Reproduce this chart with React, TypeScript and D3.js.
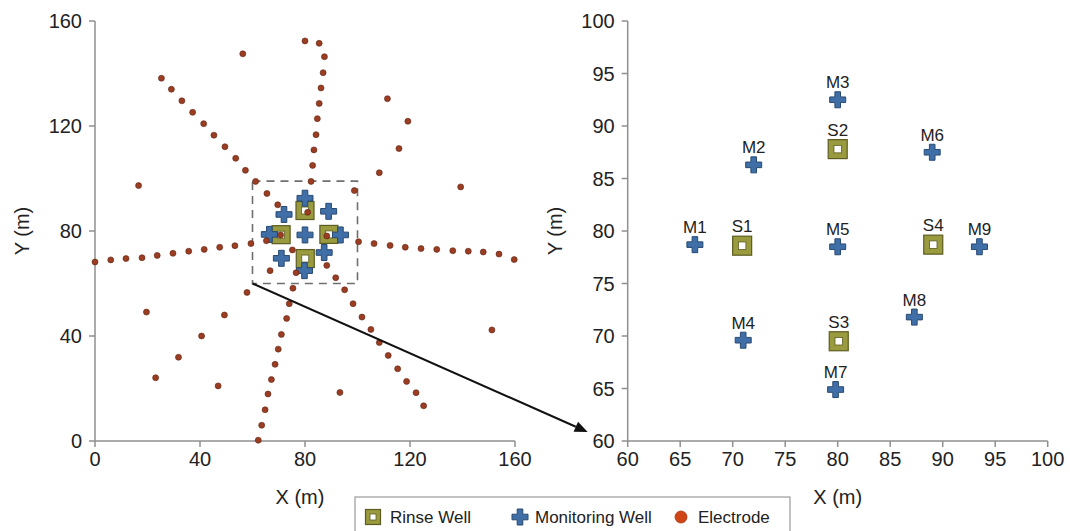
import React from "react";
import * as d3 from "d3";

// ---------- data ----------
const rinseLabels = ["S1", "S2", "S3", "S4"];
const rinseX = [70.9, 80.0, 80.1, 89.1];
const rinseY = [78.6, 87.8, 69.5, 78.7];

const monLabels = ["M1", "M2", "M3", "M4", "M5", "M6", "M7", "M8", "M9"];
const monX = [66.4, 72.0, 80.0, 71.0, 80.0, 89.0, 79.8, 87.3, 93.5];
const monY = [78.7, 86.3, 92.5, 69.6, 78.5, 87.5, 64.9, 71.8, 78.5];

const elecX = [
  // north line
  80.0, 85.4, 87.4, 86.9, 86.1, 85.4, 84.7, 84.2, 83.4, 82.9, 82.3, 81.0,
  // isolated north-west
  56.3, 16.6,
  // north-west line
  25.3, 29.1, 33.1, 37.2, 41.4, 45.3, 49.5, 53.6, 57.3, 61.2, 65.5, 69.6,
  // north-east scattered
  111.4, 119.2, 115.8, 108.3, 139.3, 98.8,
  // west line
  0.0, 6.0, 11.8, 17.9, 23.7, 29.7, 35.7, 41.6, 47.5, 53.3, 59.4, 65.3, 70.7,
  // east line
  88.3, 100.4, 106.3, 112.4, 118.2, 124.2, 130.2, 136.3, 142.2, 147.9, 153.9, 159.7,
  // south-west scattered
  19.6, 49.3, 40.6, 31.8, 23.1, 46.9, 57.9, 66.7,
  // south line
  75.2, 76.6, 75.4, 74.0, 73.0, 71.0, 69.8, 68.6, 67.2, 65.9, 64.8, 63.5, 62.2,
  // south-east line
  88.3, 91.7, 95.1, 98.3, 101.7, 105.1, 108.3, 111.7, 115.3, 118.7, 122.3, 125.2,
  // isolated south
  93.3, 151.2,
];
const elecY = [
  152.4, 151.5, 146.4, 140.3, 134.5, 128.6, 122.8, 116.7, 110.9, 105.0, 98.9, 87.1,
  147.5, 97.3,
  138.2, 134.0, 129.6, 125.2, 120.9, 116.5, 112.1, 107.7, 103.1, 98.9, 94.3, 90.0,
  130.4, 121.8, 111.4, 102.2, 96.8, 95.4,
  68.2, 69.0, 69.5, 69.8, 70.7, 71.5, 72.3, 73.0, 73.8, 74.4, 75.2, 76.3, 78.5,
  78.1, 75.9, 75.2, 74.5, 73.8, 73.3, 73.0, 72.5, 72.3, 72.0, 71.2, 69.1,
  49.1, 48.0, 40.0, 31.9, 24.1, 21.0, 56.6, 64.9,
  72.8, 64.1, 58.2, 52.3, 46.7, 40.6, 35.0, 29.2, 23.4, 17.9, 11.9, 6.0, 0.3,
  66.9, 62.2, 57.6, 52.3, 47.2, 42.5, 37.5, 32.6, 27.5, 22.7, 18.4, 13.4,
  18.5, 42.3,
];

const leftTicks = [0, 40, 80, 120, 160];
const rightTicks = [60, 65, 70, 75, 80, 85, 90, 95, 100];
const zoomBoxX = [60, 100];
const zoomBoxY = [60, 99];
const legendItems = ["Rinse Well", "Monitoring Well", "Electrode"];

// ---------- styles ----------
const FONT = "Liberation Sans, Arial, sans-serif";
const AXIS = "#8f8f8f";
const OLIVE = "#9a9a3e";
const OLIVE_DARK = "#5c5c22";
const BLUE = "#3f6fa6";
const BLUE_DARK = "#284a72";
const ELEC = "#9a3d22";
const ELEC_DARK = "#5e2412";

function plusPath(cx: number, cy: number, L = 8, a = 2.8) {
  return `M${cx - a},${cy - L}H${cx + a}V${cy - a}H${cx + L}V${cy + a}H${cx + a}V${cy + L}H${cx - a}V${cy + a}H${cx - L}V${cy - a}H${cx - a}Z`;
}

function Plus({ cx, cy, L = 8, a = 2.8 }: any) {
  return <path d={plusPath(cx, cy, L, a)} fill={BLUE} stroke={BLUE_DARK} strokeWidth={1} />;
}

function Rinse({ cx, cy, s = 18, inner = 7 }: any) {
  return (
    <g>
      <rect x={cx - s / 2} y={cy - s / 2} width={s} height={s} fill={OLIVE} stroke={OLIVE_DARK} strokeWidth={1.2} />
      <rect x={cx - inner / 2} y={cy - inner / 2} width={inner} height={inner} fill="#fff" stroke={OLIVE_DARK} strokeWidth={0.8} />
    </g>
  );
}

function Axes({ x, y, ticks }: any) {
  const [x0, x1] = x.range();
  const [y0, y1] = y.range();
  return (
    <g fontFamily={FONT} fontSize={20} fill="#222">
      <line x1={x0} x2={x1} y1={y0} y2={y0} stroke={AXIS} strokeWidth={1.5} />
      <line x1={x0} x2={x0} y1={y0} y2={y1} stroke={AXIS} strokeWidth={1.5} />
      {ticks.map((t: number) => (
        <g key={"x" + t}>
          <line x1={x(t)} x2={x(t)} y1={y0} y2={y0 + 6} stroke={AXIS} strokeWidth={1.5} />
          <text x={x(t)} y={y0 + 25} textAnchor="middle">{t}</text>
        </g>
      ))}
      {ticks.map((t: number) => (
        <g key={"y" + t}>
          <line x1={x0 - 6} x2={x0} y1={y(t)} y2={y(t)} stroke={AXIS} strokeWidth={1.5} />
          <text x={x0 - 13} y={y(t)} dy="0.36em" textAnchor="end">{t}</text>
        </g>
      ))}
    </g>
  );
}

export default function App() {
  const xL = d3.scaleLinear().domain([0, 160]).range([95, 515]);
  const yL = d3.scaleLinear().domain([0, 160]).range([441, 21]);
  const xR = d3.scaleLinear().domain([60, 100]).range([627.7, 1047.7]);
  const yR = d3.scaleLinear().domain([60, 100]).range([441, 21]);

  const ax0 = xL(zoomBoxX[0]);
  const ay0 = yL(zoomBoxY[0]);
  const ax1 = xR(60) - 40;
  const ay1 = yR(60) - 9;
  const ang = Math.atan2(ay1 - ay0, ax1 - ax0);
  const hl = 13, hw = 5.5;
  const bx = ax1 - hl * Math.cos(ang), by = ay1 - hl * Math.sin(ang);
  const head = `M${ax1},${ay1}L${bx - hw * Math.sin(ang)},${by + hw * Math.cos(ang)}L${bx + hw * Math.sin(ang)},${by - hw * Math.cos(ang)}Z`;

  return (
    <svg width={1070} height={531} style={{ position: "absolute", left: 0, top: 0, background: "#fff" }}>
      {/* Left panel */}
      <Axes x={xL} y={yL} ticks={leftTicks} />
      <rect
        x={xL(zoomBoxX[0])}
        y={yL(zoomBoxY[1])}
        width={xL(zoomBoxX[1]) - xL(zoomBoxX[0])}
        height={yL(zoomBoxY[0]) - yL(zoomBoxY[1])}
        fill="none"
        stroke="#6f6f6f"
        strokeWidth={1.6}
        strokeDasharray="8,6"
      />
      {rinseX.map((v, i) => <Rinse key={"lr" + i} cx={xL(v)} cy={yL(rinseY[i])} />)}
      {monX.map((v, i) => <Plus key={"lm" + i} cx={xL(v)} cy={yL(monY[i])} />)}
      {elecX.map((v, i) => (
        <circle key={"e" + i} cx={xL(v)} cy={yL(elecY[i])} r={3} fill={ELEC} stroke={ELEC_DARK} strokeWidth={0.6} />
      ))}
      <text x={(xL.range()[0] + xL.range()[1]) / 2 - 5} y={504} textAnchor="middle" fontFamily={FONT} fontSize={20} fill="#222">X (m)</text>
      <text transform={`translate(29,${(yL.range()[0] + yL.range()[1]) / 2}) rotate(-90)`} textAnchor="middle" fontFamily={FONT} fontSize={20} fill="#222">Y (m)</text>

      {/* Arrow */}
      <line x1={ax0} y1={ay0} x2={bx} y2={by} stroke="#111" strokeWidth={2} />
      <path d={head} fill="#111" />

      {/* Right panel */}
      <Axes x={xR} y={yR} ticks={rightTicks} />
      {rinseX.map((v, i) => (
        <g key={"rr" + i}>
          <Rinse cx={xR(v)} cy={yR(rinseY[i])} s={19} inner={7.5} />
          <text x={xR(v)} y={yR(rinseY[i]) - 13.5} textAnchor="middle" fontFamily={FONT} fontSize={17} fill="#222">{rinseLabels[i]}</text>
        </g>
      ))}
      {monX.map((v, i) => (
        <g key={"rm" + i}>
          <Plus cx={xR(v)} cy={yR(monY[i])} />
          <text x={xR(v)} y={yR(monY[i]) - 11.5} textAnchor="middle" fontFamily={FONT} fontSize={17} fill="#222">{monLabels[i]}</text>
        </g>
      ))}
      <text x={(xR.range()[0] + xR.range()[1]) / 2} y={504} textAnchor="middle" fontFamily={FONT} fontSize={20} fill="#222">X (m)</text>
      <text transform={`translate(562,${(yR.range()[0] + yR.range()[1]) / 2}) rotate(-90)`} textAnchor="middle" fontFamily={FONT} fontSize={20} fill="#222">Y (m)</text>

      {/* Legend */}
      <g fontFamily={FONT} fontSize={17} fill="#222">
        <rect x={355} y={497} width={435} height={45} fill="#fff" stroke="#9a9a9a" strokeWidth={1.2} />
        <Rinse cx={373} cy={517} s={15} inner={6} />
        <text x={390} y={523}>{legendItems[0]}</text>
        <Plus cx={520} cy={517} L={8} a={2.8} />
        <text x={535} y={523}>{legendItems[1]}</text>
        <circle cx={681} cy={517} r={6} fill="#cf4515" stroke="#a8360f" strokeWidth={0.8} />
        <text x={698} y={523}>{legendItems[2]}</text>
      </g>
    </svg>
  );
}
